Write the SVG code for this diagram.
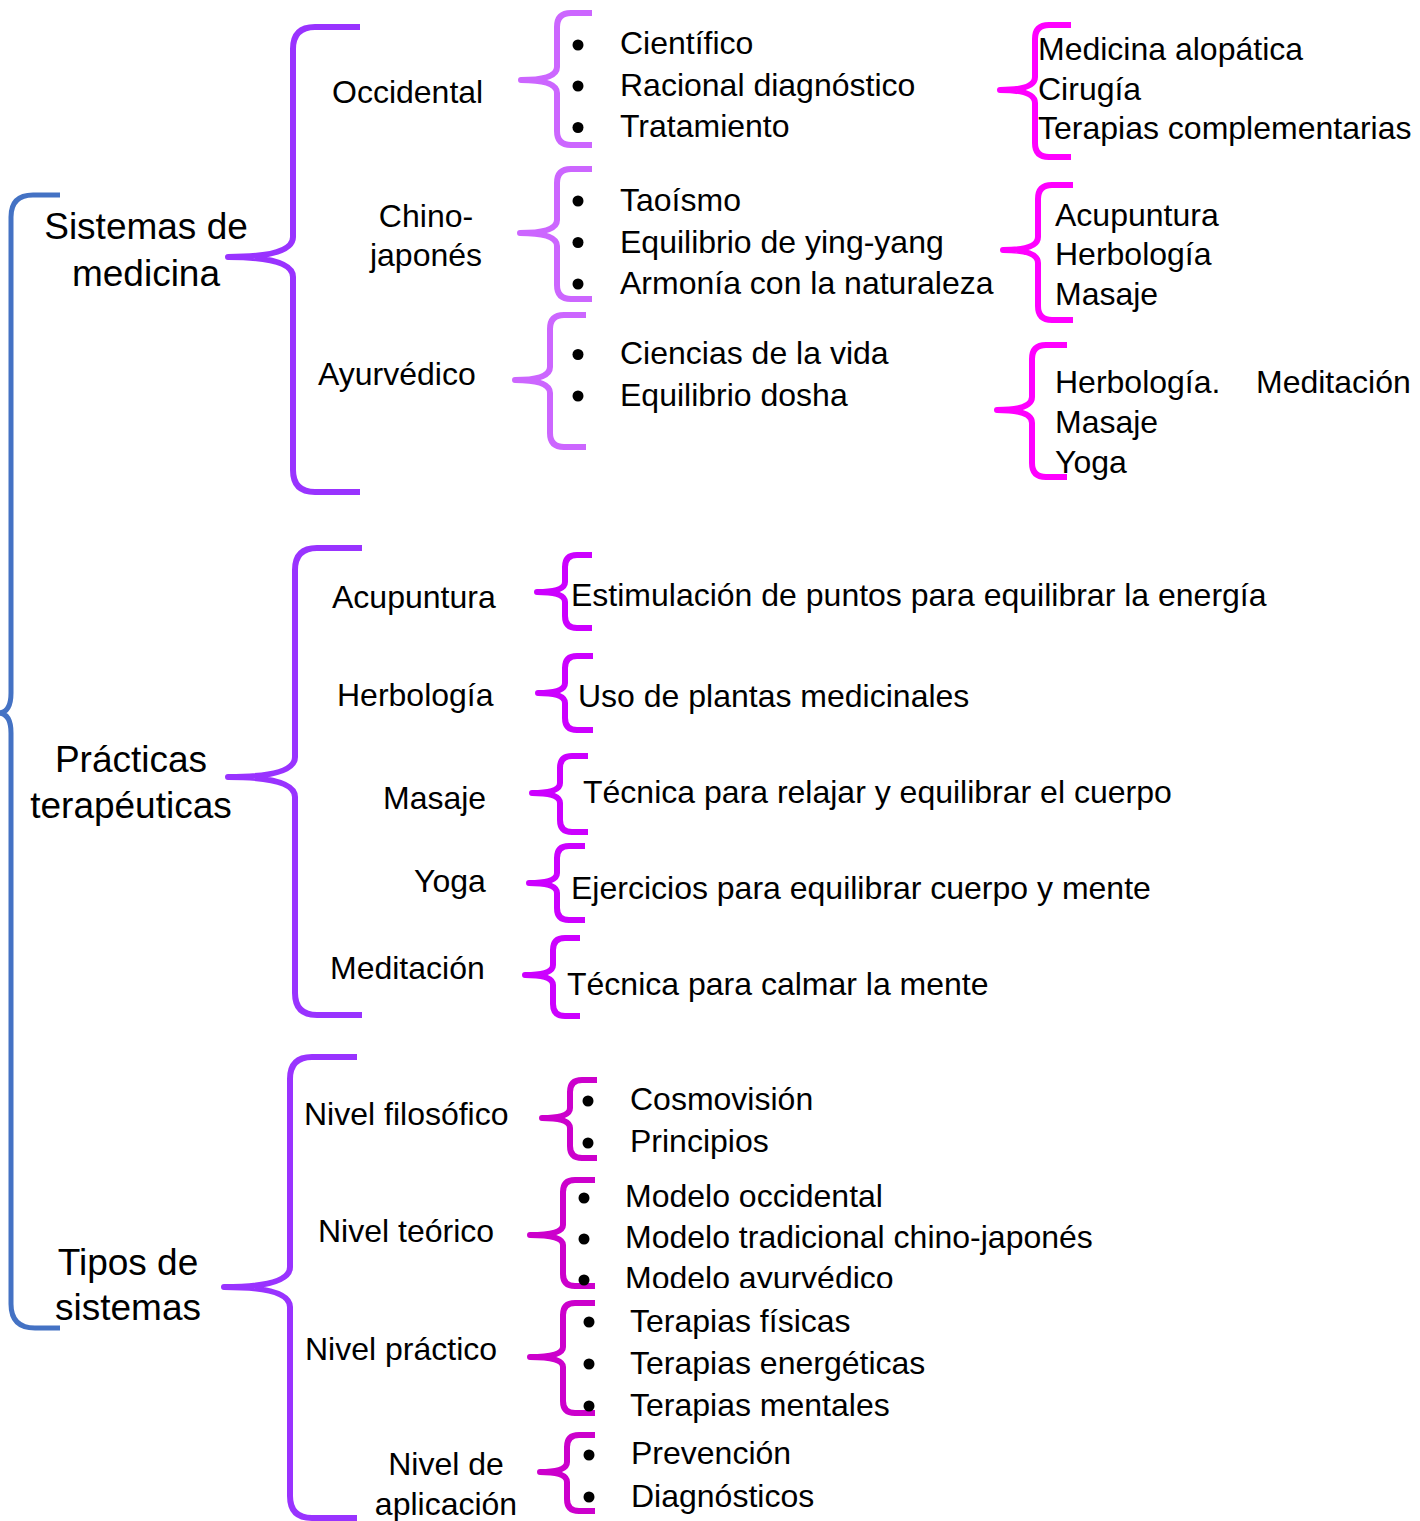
<svg xmlns="http://www.w3.org/2000/svg" width="1420" height="1521" viewBox="0 0 1420 1521">
<style>
text{font-family:"Liberation Sans",Arial,sans-serif;fill:#000}
.t1{font-size:37px;text-anchor:middle}
.t2{font-size:32px}
.c{text-anchor:middle}
.br{fill:none;stroke-linejoin:round;stroke-linecap:butt}
.blue{stroke:#4472C4;stroke-width:5}
.l1{stroke:#9933FF;stroke-width:6}
.l2{stroke:#CC66FF;stroke-width:6}
.mg{stroke:#FF00FF;stroke-width:6}
.pr{stroke:#CC00FF;stroke-width:6}
.tp{stroke:#CC00CC;stroke-width:6}
circle{fill:#000}
</style>
<defs>
<clipPath id="clipTeo"><rect x="0" y="1150" width="1420" height="138"/></clipPath>
</defs>
<rect width="1420" height="1521" fill="#fff"/>
<g id="connectors">
<path class="br blue" d="M60 195 L33 195 Q11 195 11 217 L11 693 Q11 713 -2 713 Q11 713 11 733 L11 1304 Q11 1328 35 1328 L60 1328"/>
<path class="br l1" d="M360 27 L315 27 Q293 27 293 49 L293 237 Q293 257 228 257 Q293 257 293 277 L293 470 Q293 492 315 492 L360 492"/>
<path class="br l1" d="M362 548 L317 548 Q295 548 295 570 L295 757 Q295 777 228 777 Q295 777 295 797 L295 993 Q295 1015 317 1015 L362 1015"/>
<path class="br l1" d="M357 1057 L312 1057 Q290 1057 290 1079 L290 1267 Q290 1287 224 1287 Q290 1287 290 1307 L290 1496 Q290 1518 312 1518 L357 1518"/>
<path class="br l2" d="M592 13 L571 13 Q557 13 557 27 L557 67 Q557 80 521 80 Q557 80 557 93 L557 131 Q557 145 571 145 L592 145"/>
<path class="br l2" d="M592 169 L571 169 Q557 169 557 183 L557 220 Q557 233 520 233 Q557 233 557 246 L557 285 Q557 299 571 299 L592 299"/>
<path class="br l2" d="M586 315 L564 315 Q550 315 550 329 L550 367 Q550 380 515 380 Q550 380 550 393 L550 433 Q550 447 564 447 L586 447"/>
<path class="br mg" d="M1071 25 L1049 25 Q1035 25 1035 39 L1035 77 Q1035 90 1000 90 Q1035 90 1035 103 L1035 143 Q1035 157 1049 157 L1071 157"/>
<path class="br mg" d="M1073 185 L1052 185 Q1038 185 1038 199 L1038 237 Q1038 250 1003 250 Q1038 250 1038 263 L1038 306 Q1038 320 1052 320 L1073 320"/>
<path class="br mg" d="M1067 345 L1046 345 Q1032 345 1032 359 L1032 397 Q1032 410 997 410 Q1032 410 1032 423 L1032 463 Q1032 477 1046 477 L1067 477"/>
<path class="br pr" d="M592 555 L577 555 Q565 555 565 567 L565 582 Q565 592 537 592 Q565 592 565 602 L565 616 Q565 628 577 628 L592 628"/>
<path class="br pr" d="M593 656 L577 656 Q565 656 565 668 L565 683 Q565 693 538 693 Q565 693 565 703 L565 718 Q565 730 577 730 L593 730"/>
<path class="br pr" d="M588 756 L572 756 Q560 756 560 768 L560 783 Q560 793 532 793 Q560 793 560 803 L560 820 Q560 832 572 832 L588 832"/>
<path class="br pr" d="M585 846 L569 846 Q557 846 557 858 L557 873 Q557 883 529 883 Q557 883 557 893 L557 908 Q557 920 569 920 L585 920"/>
<path class="br pr" d="M580 938 L565 938 Q553 938 553 950 L553 965 Q553 975 525 975 Q553 975 553 985 L553 1004 Q553 1016 565 1016 L580 1016"/>
<path class="br tp" d="M597 1080 L582 1080 Q570 1080 570 1092 L570 1108 Q570 1118 542 1118 Q570 1118 570 1128 L570 1146 Q570 1158 582 1158 L597 1158"/>
<path class="br tp" d="M595 1180 L575 1180 Q563 1180 563 1192 L563 1225 Q563 1235 530 1235 Q563 1235 563 1245 L563 1274 Q563 1286 575 1286 L595 1286"/>
<path class="br tp" d="M595 1303 L575 1303 Q563 1303 563 1315 L563 1347 Q563 1357 530 1357 Q563 1357 563 1367 L563 1401 Q563 1413 575 1413 L595 1413"/>
<path class="br tp" d="M595 1435 L579 1435 Q567 1435 567 1447 L567 1462 Q567 1472 540 1472 Q567 1472 567 1482 L567 1499 Q567 1511 579 1511 L595 1511"/>
</g>
<g id="node-sistemas"><text class="t1" x="146" y="239">Sistemas de</text><text class="t1" x="146" y="286">medicina</text></g>
<g id="node-practicas"><text class="t1" x="131" y="772">Prácticas</text><text class="t1" x="131" y="818">terapéuticas</text></g>
<g id="node-tipos"><text class="t1" x="128" y="1275">Tipos de</text><text class="t1" x="128" y="1320">sistemas</text></g>
<g id="node-occidental"><text class="t2" x="332" y="103">Occidental</text></g>
<g id="node-chino"><text class="t2 c" x="426" y="227">Chino-</text><text class="t2 c" x="426" y="266">japonés</text></g>
<g id="node-ayurvedico"><text class="t2" x="318" y="385">Ayurvédico</text></g>
<g id="node-occ-list">
<circle cx="578" cy="45" r="5.5"/><circle cx="578" cy="86" r="5.5"/><circle cx="578" cy="127.5" r="5.5"/>
<text class="t2" x="620" y="54">Científico</text><text class="t2" x="620" y="95.5">Racional diagnóstico</text><text class="t2" x="620" y="137">Tratamiento</text>
</g>
<g id="node-chino-list">
<circle cx="578" cy="201" r="5.5"/><circle cx="578" cy="242.5" r="5.5"/><circle cx="578" cy="284" r="5.5"/>
<text class="t2" x="620" y="211">Taoísmo</text><text class="t2" x="620" y="252.5">Equilibrio de ying-yang</text><text class="t2" x="620" y="294">Armonía con la naturaleza</text>
</g>
<g id="node-ayur-list">
<circle cx="578" cy="354.5" r="5.5"/><circle cx="578" cy="396" r="5.5"/>
<text class="t2" x="620" y="364">Ciencias de la vida</text><text class="t2" x="620" y="406">Equilibrio dosha</text>
</g>
<g id="node-occ-right"><text class="t2" x="1038" y="60">Medicina alopática</text><text class="t2" x="1038" y="100">Cirugía</text><text class="t2" x="1038" y="139">Terapias complementarias</text></g>
<g id="node-chino-right"><text class="t2" x="1055" y="226">Acupuntura</text><text class="t2" x="1055" y="265">Herbología</text><text class="t2" x="1055" y="305">Masaje</text></g>
<g id="node-ayur-right"><text class="t2" x="1055" y="393">Herbología.</text><text class="t2" x="1256" y="393">Meditación</text><text class="t2" x="1055" y="433">Masaje</text><text class="t2" x="1055" y="473">Yoga</text></g>
<g id="node-acupuntura"><text class="t2" x="332" y="608">Acupuntura</text></g>
<g id="node-herbologia"><text class="t2" x="337" y="706">Herbología</text></g>
<g id="node-masaje"><text class="t2" x="383" y="809">Masaje</text></g>
<g id="node-yoga"><text class="t2" x="414" y="892">Yoga</text></g>
<g id="node-meditacion"><text class="t2" x="330" y="979">Meditación</text></g>
<g id="node-acu-desc"><text class="t2" x="571" y="606">Estimulación de puntos para equilibrar la energía</text></g>
<g id="node-herb-desc"><text class="t2" x="578" y="707">Uso de plantas medicinales</text></g>
<g id="node-mas-desc"><text class="t2" x="583" y="803">Técnica para relajar y equilibrar el cuerpo</text></g>
<g id="node-yoga-desc"><text class="t2" x="571" y="899">Ejercicios para equilibrar cuerpo y mente</text></g>
<g id="node-med-desc"><text class="t2" x="567" y="995">Técnica para calmar la mente</text></g>
<g id="node-filosofico"><text class="t2" x="304" y="1125">Nivel filosófico</text></g>
<g id="node-teorico"><text class="t2" x="318" y="1242">Nivel teórico</text></g>
<g id="node-practico"><text class="t2" x="305" y="1360">Nivel práctico</text></g>
<g id="node-aplicacion"><text class="t2 c" x="446" y="1475">Nivel de</text><text class="t2 c" x="446" y="1515">aplicación</text></g>
<g id="node-filo-list">
<circle cx="588" cy="1101" r="5.5"/><circle cx="588" cy="1143" r="5.5"/>
<text class="t2" x="630" y="1110">Cosmovisión</text><text class="t2" x="630" y="1152">Principios</text>
</g>
<g id="node-teo-list" clip-path="url(#clipTeo)">
<circle cx="584" cy="1198" r="5.5"/><circle cx="584" cy="1239" r="5.5"/><circle cx="584" cy="1280" r="5.5"/>
<text class="t2" x="625" y="1207">Modelo occidental</text><text class="t2" x="625" y="1248">Modelo tradicional chino-japonés</text><text class="t2" x="625" y="1289">Modelo ayurvédico</text>
</g>
<g id="node-prac-list">
<circle cx="589" cy="1322" r="5.5"/><circle cx="589" cy="1364" r="5.5"/><circle cx="589" cy="1406" r="5.5"/>
<text class="t2" x="630" y="1332">Terapias físicas</text><text class="t2" x="630" y="1374">Terapias energéticas</text><text class="t2" x="630" y="1416">Terapias mentales</text>
</g>
<g id="node-apl-list">
<circle cx="589" cy="1455" r="5.5"/><circle cx="589" cy="1497" r="5.5"/>
<text class="t2" x="631" y="1464">Prevención</text><text class="t2" x="631" y="1507">Diagnósticos</text>
</g>
</svg>
